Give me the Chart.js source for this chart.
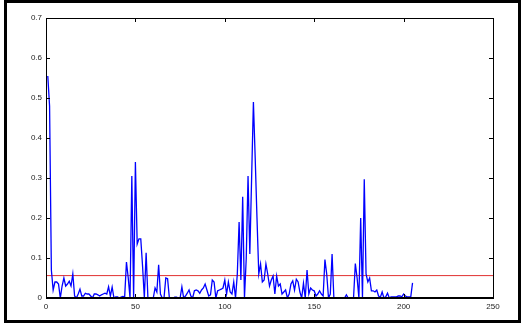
<!DOCTYPE html>
<html>
<head>
<meta charset="utf-8">
<script src="https://cdn.jsdelivr.net/npm/chart.js@4/dist/chart.umd.min.js"></script>
<style>
  html, body { margin: 0; padding: 0; background: #fff; }
  #wrap { position: relative; width: 526px; height: 323px; }
  #frame { position: absolute; left: 4px; top: 0px; width: 511px; height: 317px; border: 3px solid #000; }
  canvas { position: absolute; left: 0; top: 0; }
</style>
</head>
<body>
<div id="wrap">
  <div id="frame"></div>
  <canvas id="chart" width="526" height="323"></canvas>
</div>
<script>
// values, one per sample 1..205
const values = [
  0.555, 0.48, 0.07, 0.02, 0.04, 0.04, 0.035, 0, 0.03, 0.05,
  0.03, 0.035, 0.042, 0.03, 0.06, 0.005, 0, 0.01, 0.022, 0.005,
  0.005, 0.012, 0.01, 0.01, 0.005, 0, 0.01, 0.01, 0.008, 0.005,
  0.008, 0.01, 0.012, 0.01, 0.028, 0.005, 0.027, 0, 0.003, 0.003,
  0, 0.002, 0.004, 0.003, 0.09, 0.05, 0, 0.305, 0, 0.34,
  0.135, 0.148, 0.148, 0.08, 0, 0.113, 0, 0, 0, 0,
  0.025, 0.015, 0.083, 0.01, 0, 0, 0.05, 0.048, 0, 0,
  0, 0.002, 0.002, 0, 0, 0.028, 0, 0.005, 0.012, 0.02,
  0.005, 0, 0.018, 0.02, 0.018, 0.012, 0.02, 0.025, 0.035, 0.02,
  0.005, 0.008, 0.045, 0.04, 0, 0.018, 0.02, 0.022, 0.025, 0.045,
  0.01, 0.04, 0.015, 0.01, 0.04, 0, 0.06, 0.19, 0.045, 0.253,
  0, 0.1, 0.305, 0.11, 0.3, 0.49, 0.35, 0.2, 0.06, 0.085,
  0.04, 0.045, 0.085, 0.06, 0.03, 0.045, 0.055, 0.01, 0.055, 0.03,
  0.035, 0.01, 0.015, 0.02, 0, 0.01, 0.035, 0.043, 0.02, 0.047,
  0.04, 0.015, 0, 0.037, 0, 0.07, 0.01, 0.025, 0.02, 0.018,
  0.005, 0.01, 0.018, 0.01, 0.005, 0.096, 0.06, 0, 0.01, 0.11,
  0, 0, 0, 0, 0, 0, 0, 0.008, 0, 0,
  0, 0, 0.086, 0.05, 0, 0.2, 0, 0.297, 0.06, 0.04,
  0.05, 0.018, 0.018, 0.015, 0.02, 0.005, 0.002, 0.015, 0, 0.003,
  0.012, 0, 0.003, 0.003, 0.003, 0.003, 0.005, 0.005, 0.003, 0.01,
  0.005, 0.003, 0.003, 0.003, 0.038
];
const threshold = 0.056;
const xTicks = [0, 50, 100, 150, 200, 250];
const yTicks = [0, 0.1, 0.2, 0.3, 0.4, 0.5, 0.6, 0.7];

const series = values.map((v, i) => ({ x: i + 1, y: v }));
const thresholdLine = [{ x: xTicks[0], y: threshold }, { x: xTicks[xTicks.length - 1], y: threshold }];

// box round the plot area with short inward ticks on all four sides
const boxTicks = {
  id: "boxTicks",
  afterDraw(chart) {
    const { ctx, chartArea: a, scales } = chart;
    ctx.save();
    ctx.strokeStyle = "#000";
    ctx.lineWidth = 1;
    ctx.beginPath();
    xTicks.forEach(t => {
      const px = Math.round(scales.x.getPixelForValue(t)) + 0.5;
      ctx.moveTo(px, a.bottom); ctx.lineTo(px, a.bottom - 4);
      ctx.moveTo(px, a.top); ctx.lineTo(px, a.top + 4);
    });
    yTicks.forEach(t => {
      const py = Math.round(scales.y.getPixelForValue(t)) + 0.5;
      ctx.moveTo(a.left, py); ctx.lineTo(a.left + 4, py);
      ctx.moveTo(a.right, py); ctx.lineTo(a.right - 4, py);
    });
    ctx.stroke();
    ctx.lineWidth = 1;
    ctx.strokeRect(Math.round(a.left) + 0.5, Math.round(a.top) + 0.5, Math.round(a.right - a.left), Math.round(a.bottom - a.top));
    ctx.lineWidth = 2;
    ctx.beginPath();
    ctx.moveTo(a.left, a.bottom); ctx.lineTo(a.right, a.bottom);
    ctx.stroke();
    ctx.restore();
  }
};

new Chart(document.getElementById("chart"), {
  type: "line",
  data: {
    datasets: [
      { data: series, borderColor: "#0000ff", borderWidth: 1.3, pointRadius: 0, tension: 0 },
      { data: thresholdLine, borderColor: "#e03030", borderWidth: 1, pointRadius: 0 }
    ]
  },
  options: {
    responsive: false,
    animation: false,
    events: [],
    layout: { padding: { left: 0, top: 18, right: 33, bottom: 0 } },
    plugins: { legend: { display: false }, tooltip: { enabled: false } },
    scales: {
      x: {
        type: "linear", min: 0, max: 250,
        afterBuildTicks: s => { s.ticks = xTicks.map(v => ({ value: v })); },
        afterFit: s => { s.height = 25; },
        grid: { display: false, drawTicks: false },
        border: { display: false },
        ticks: { color: "#222", font: { family: "Liberation Sans", size: 8 }, padding: 4, maxRotation: 0 }
      },
      y: {
        min: 0, max: 0.7,
        afterBuildTicks: s => { s.ticks = yTicks.map(v => ({ value: v })); },
        afterFit: s => { s.width = 46; },
        grid: { display: false, drawTicks: false },
        border: { display: false },
        ticks: { color: "#222", font: { family: "Liberation Sans", size: 8 }, padding: 4,
                 callback: v => String(Math.round(v * 10) / 10) }
      }
    }
  },
  plugins: [boxTicks]
});
</script>
</body>
</html>
